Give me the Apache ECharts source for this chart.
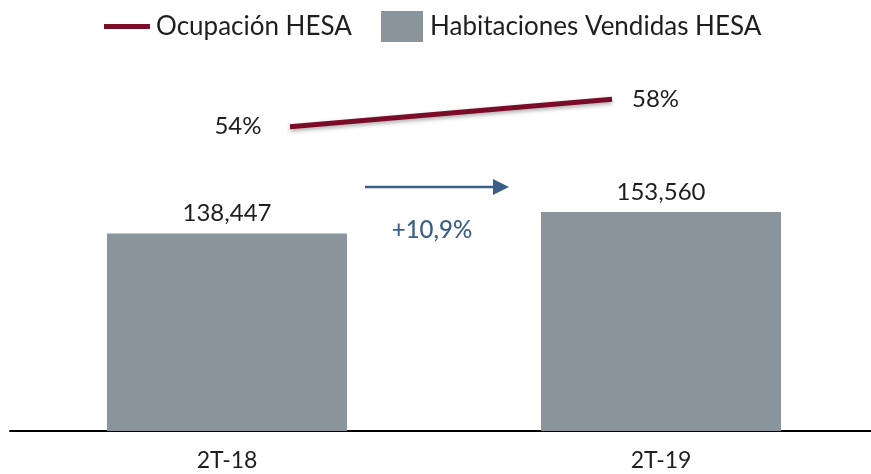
<!DOCTYPE html>
<html>
<head>
<meta charset="utf-8">
<script src="https://cdn.jsdelivr.net/npm/echarts@6/dist/echarts.min.js"></script>
<style>
  html, body { margin: 0; padding: 0; background: #fff; }
  #chart { width: 871px; height: 474px; }
</style>
</head>
<body>
<div id="chart"></div>
<script>
// Quarterly figures for HESA
const categories = ['2T-18', '2T-19'];
const roomsSold = [138447, 153560];   // Habitaciones Vendidas HESA
const occupancy = [54, 58];           // Ocupación HESA (%)
const growthLabel = '+10,9%';

const FONT = 'Lato';
const TEXT = '#1e1e1e';
const BAR = '#89949c';
const LINE = '#7a0c28';
const ARROW = '#3b5f86';

const chart = echarts.init(document.getElementById('chart'));

chart.setOption({
  animation: false,
  textStyle: { fontFamily: FONT },
  legend: [
    {
      data: ['Ocupación HESA'],
      left: 99, top: 6,
      icon: 'rect', itemWidth: 46, itemHeight: 5, itemGap: 10,
      textStyle: { fontSize: 26, lineHeight: 31, color: TEXT, fontFamily: FONT, padding: [0, 0, 0, 1] }
    },
    {
      data: ['Habitaciones Vendidas HESA'],
      left: 376, top: 6,
      icon: 'rect', itemWidth: 42, itemHeight: 31, itemGap: 10,
      textStyle: { fontSize: 26, lineHeight: 31, color: TEXT, fontFamily: FONT, padding: [0, 0, 0, 2] }
    }
  ],
  grid: [
    { left: 10, width: 868, top: 74.5, bottom: 43, outerBoundsMode: 'none' },
    { left: 290, width: 322, top: 85.6, height: 68.5, outerBoundsMode: 'none' }
  ],
  xAxis: [
    {
      type: 'category', gridIndex: 0, data: categories,
      axisLine: { lineStyle: { color: '#000', width: 2 } },
      axisTick: { show: false },
      axisLabel: { fontSize: 23, color: TEXT, margin: 18, fontFamily: FONT }
    },
    {
      type: 'category', gridIndex: 1, data: categories, boundaryGap: false,
      show: false
    }
  ],
  yAxis: [
    { type: 'value', gridIndex: 0, min: 0, max: 250000, show: false, splitLine: { show: false } },
    { type: 'value', gridIndex: 1, min: 50, max: 60, show: false, splitLine: { show: false } }
  ],
  series: [
    {
      name: 'Habitaciones Vendidas HESA',
      type: 'bar', xAxisIndex: 0, yAxisIndex: 0,
      data: roomsSold,
      barWidth: 240,
      itemStyle: { color: BAR },
      label: {
        show: true, position: 'top', distance: 8,
        fontSize: 24, color: TEXT, fontFamily: FONT,
        formatter: p => p.value.toLocaleString('en-US')
      }
    },
    {
      name: 'Ocupación HESA',
      type: 'line', xAxisIndex: 1, yAxisIndex: 1,
      data: occupancy,
      symbol: 'none',
      lineStyle: {
        color: LINE, width: 5,
        shadowColor: 'rgba(0,0,0,0.35)', shadowBlur: 4, shadowOffsetY: 2
      },
      itemStyle: { color: LINE },
      label: { show: false },
      endLabel: {
        show: true, formatter: p => p.value + '%',
        fontSize: 24, color: TEXT, fontFamily: FONT, distance: 20
      },
      markPoint: {
        symbol: 'circle', symbolSize: 1,
        itemStyle: { color: 'transparent' },
        label: {
          show: true, position: 'left', distance: 28,
          fontSize: 24, color: TEXT, fontFamily: FONT,
          formatter: p => p.value + '%'
        },
        data: [{ coord: [0, occupancy[0]], value: occupancy[0] }]
      }
    }
  ],
  graphic: [
    {
      type: 'group',
      children: [
        { type: 'line', shape: { x1: 365, y1: 187, x2: 496, y2: 187 },
          style: { stroke: ARROW, lineWidth: 2.5 } },
        { type: 'polygon', shape: { points: [[493, 179], [509, 187], [493, 195]] },
          style: { fill: ARROW } },
        { type: 'text', x: 432, y: 230,
          style: { text: growthLabel, fill: ARROW, fontSize: 24, fontFamily: FONT,
                   fontWeight: 500, align: 'center', verticalAlign: 'middle' } }
      ]
    }
  ]
});
</script>
</body>
</html>
